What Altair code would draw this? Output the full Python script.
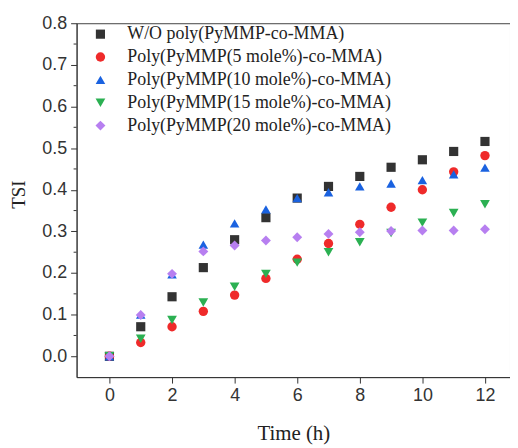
import altair as alt
import pandas as pd

times = list(range(13))
series_names = [
    "W/O poly(PyMMP-co-MMA)",
    "Poly(PyMMP(5 mole%)-co-MMA)",
    "Poly(PyMMP(10 mole%)-co-MMA)",
    "Poly(PyMMP(15 mole%)-co-MMA)",
    "Poly(PyMMP(20 mole%)-co-MMA)",
]
tsi_wo = [0.0, 0.071, 0.143, 0.213, 0.280, 0.333, 0.380, 0.408, 0.432, 0.454, 0.472, 0.492, 0.516]
tsi_5 = [0.0, 0.033, 0.071, 0.108, 0.147, 0.187, 0.233, 0.271, 0.317, 0.358, 0.400, 0.443, 0.482]
tsi_10 = [0.0, 0.100, 0.197, 0.268, 0.319, 0.353, 0.380, 0.394, 0.408, 0.415, 0.423, 0.437, 0.453]
tsi_15 = [0.0, 0.042, 0.087, 0.129, 0.167, 0.198, 0.225, 0.250, 0.274, 0.296, 0.321, 0.344, 0.365]
tsi_20 = [0.0, 0.099, 0.198, 0.252, 0.266, 0.278, 0.286, 0.294, 0.298, 0.301, 0.302, 0.302, 0.305]
colors = ["#333333", "#ef2a2a", "#1a62e0", "#2bb052", "#b77ff0"]
shapes = ["square", "circle", "triangle-up", "triangle-down", "diamond"]
marker_sizes = [85, 100, 125, 125, 140]
y_ticks = [0.0, 0.1, 0.2, 0.3, 0.4, 0.5, 0.6, 0.7, 0.8]
y_minor = [0.05, 0.15, 0.25, 0.35, 0.45, 0.55, 0.65, 0.75]
x_ticks = [0, 2, 4, 6, 8, 10, 12]

rows = []
for name, vals in zip(series_names, [tsi_wo, tsi_5, tsi_10, tsi_15, tsi_20]):
    for t, v in zip(times, vals):
        rows.append({"series": name, "time": t, "tsi": v})
df = pd.DataFrame(rows)
minor_df = pd.DataFrame({"v": y_minor})

xscale = alt.Scale(domain=[-1.05, 12.8], nice=False, zero=False)
yscale = alt.Scale(domain=[-0.05, 0.8], nice=False, zero=False)

points = alt.Chart(df).mark_point(filled=True, opacity=1).encode(
    x=alt.X("time:Q", scale=xscale,
            axis=alt.Axis(values=x_ticks, title="Time (h)", format="d", grid=False,
                          tickSize=6, labelPadding=4, titlePadding=18)),
    y=alt.Y("tsi:Q", scale=yscale,
            axis=alt.Axis(values=y_ticks, title="TSI", format=".1f", grid=False,
                          tickSize=6, labelPadding=4, titleX=-58, titleY=172,
                          titleBaseline="middle", titleFontSize=19)),
    color=alt.Color("series:N", sort=series_names,
                    scale=alt.Scale(domain=series_names, range=colors),
                    legend=alt.Legend(title=None, orient="none", legendX=15, legendY=2,
                                      labelFont="Liberation Serif", labelFontSize=18,
                                      labelColor="#222", labelLimit=400,
                                      symbolSize=80, rowPadding=5, labelOffset=18,
                                      padding=0, symbolStrokeWidth=0)),
    shape=alt.Shape("series:N", sort=series_names,
                    scale=alt.Scale(domain=series_names, range=shapes)),
    size=alt.Size("series:N", sort=series_names,
                  scale=alt.Scale(domain=series_names, range=marker_sizes),
                  legend=None),
)

minor = alt.Chart(minor_df).mark_rule(color="#333", strokeWidth=1).encode(
    y=alt.Y("v:Q", scale=yscale),
    x=alt.value(-3),
    x2=alt.value(0),
)

chart = alt.layer(minor, points).properties(
    width=436, height=356,
    autosize=alt.AutoSizeParams(type="none"),
    padding={"left": 69, "top": 14, "right": 0, "bottom": 70},
).configure_view(
    stroke="#444", strokeWidth=1,
).configure_axis(
    domainColor="#333", tickColor="#333", labelColor="#333",
    labelFont="Liberation Sans", labelFontSize=18,
    titleFont="Liberation Serif", titleFontSize=21, titleFontWeight="normal",
    titleColor="#222",
)

chart.save("out.html", embed_options={"renderer": "svg", "actions": False})
